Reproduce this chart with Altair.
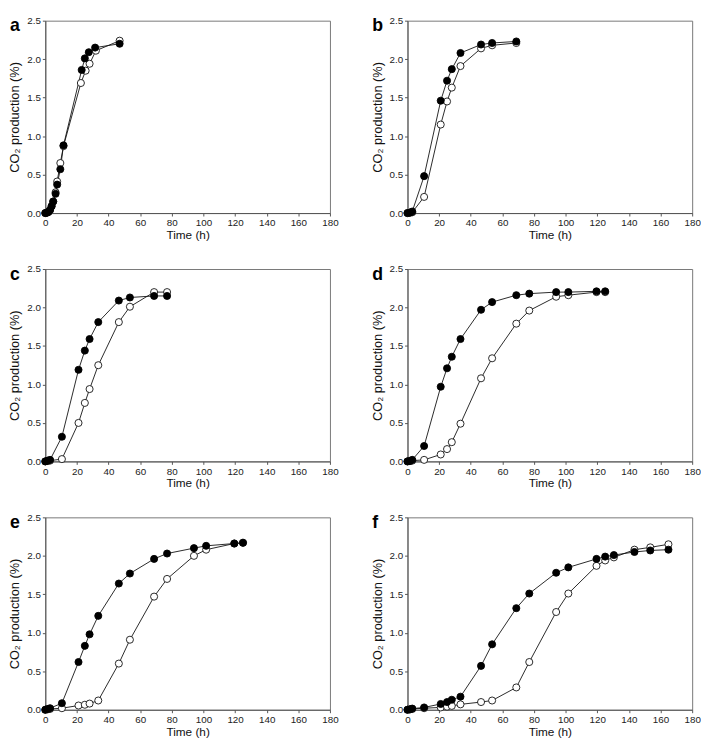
import altair as alt
import pandas as pd

FONT = "Liberation Sans"

# ---- data (time in h, CO2 production in %) ----
# panel a
time_a_filled = [0, 1, 2, 3, 4, 5, 6.5, 7.5, 9.5, 11.5, 23, 25, 27.5, 31.5, 47]
co2_a_filled = [0, 0.005, 0.015, 0.04, 0.09, 0.15, 0.25, 0.37, 0.57, 0.88, 1.86, 2.01, 2.09, 2.15, 2.20]
time_a_open = [0, 1, 2, 3, 4, 5, 6.5, 7.5, 9.5, 11.5, 22.5, 25.5, 28, 32, 47]
co2_a_open = [0, 0.005, 0.015, 0.04, 0.09, 0.15, 0.27, 0.41, 0.65, 0.87, 1.69, 1.85, 1.94, 2.11, 2.24]

# common sampling times for panels b-f
time_long = [0, 1.5, 3, 10.5, 21, 25, 28, 33.5, 46.5, 53.5, 68.8, 77, 94, 101.7,
             119.5, 125, 130.5, 143.5, 153.5, 165]

# panel b
co2_b_filled = [0, 0.005, 0.02, 0.48, 1.46, 1.72, 1.87, 2.08, 2.19, 2.21, 2.23]
co2_b_open = [0, 0.005, 0.01, 0.21, 1.15, 1.45, 1.63, 1.91, 2.14, 2.18, 2.21]
# panel c
co2_c_filled = [0, 0.01, 0.02, 0.32, 1.19, 1.44, 1.59, 1.81, 2.09, 2.13, 2.15, 2.15]
co2_c_open = [0, 0.005, 0.01, 0.03, 0.50, 0.76, 0.94, 1.25, 1.81, 2.01, 2.20, 2.20]
# panel d
co2_d_filled = [0, 0.005, 0.02, 0.20, 0.97, 1.21, 1.36, 1.59, 1.97, 2.07, 2.16, 2.18,
                2.20, 2.20, 2.21, 2.21]
co2_d_open = [0, 0.005, 0.01, 0.02, 0.09, 0.16, 0.25, 0.49, 1.08, 1.34, 1.79, 1.96,
              2.14, 2.16, 2.20, 2.20]
# panel e
co2_e_filled = [0, 0.01, 0.02, 0.085, 0.62, 0.83, 0.98, 1.22, 1.64, 1.77, 1.96, 2.03,
                2.10, 2.13, 2.16, 2.17]
co2_e_open = [0, 0.005, 0.01, 0.02, 0.055, 0.065, 0.08, 0.12, 0.60, 0.91, 1.47, 1.70,
              2.00, 2.08, 2.16, 2.17]
# panel f
co2_f_filled = [0, 0.005, 0.015, 0.03, 0.075, 0.10, 0.13, 0.17, 0.57, 0.85, 1.32, 1.51,
                1.78, 1.85, 1.96, 1.99, 2.01, 2.05, 2.07, 2.08]
co2_f_open = [0, 0.005, 0.01, 0.02, 0.03, 0.04, 0.05, 0.07, 0.10, 0.12, 0.29, 0.62,
              1.27, 1.51, 1.87, 1.94, 1.98, 2.08, 2.11, 2.15]

x_ticks = [0, 20, 40, 60, 80, 100, 120, 140, 160, 180]
y_ticks = [0, 0.5, 1.0, 1.5, 2.0, 2.5]

W, H = 290, 196


def panel(letter, t_f, y_f, t_o, y_o):
    df = pd.DataFrame({
        "t": list(t_o) + list(t_f),
        "v": list(y_o) + list(y_f),
        "series": ["open"] * len(t_o) + ["filled"] * len(t_f),
    })
    x = alt.X("t:Q", scale=alt.Scale(domain=[0, 180], nice=False),
              axis=alt.Axis(values=x_ticks, title="Time (h)"))
    y = alt.Y("v:Q", scale=alt.Scale(domain=[0, 2.5], nice=False),
              axis=alt.Axis(values=y_ticks, format=".1f", title="CO₂ production (%)"))
    base = alt.Chart(df).encode(x=x, y=y)
    lines = base.mark_line(color="#111", strokeWidth=0.9).encode(detail="series:N")
    opn = base.transform_filter(alt.datum.series == "open").mark_point(
        shape="circle", filled=True, fill="white", stroke="#111",
        strokeWidth=0.9, size=52, opacity=1)
    fil = base.transform_filter(alt.datum.series == "filled").mark_point(
        shape="circle", filled=True, fill="black", stroke="black",
        strokeWidth=0.9, size=52, opacity=1)
    lab = alt.Chart(pd.DataFrame({"letter": [letter]})).mark_text(
        align="left", baseline="top", fontSize=18, fontWeight="bold",
        font=FONT, color="black").encode(
        text="letter:N", x=alt.value(-36), y=alt.value(-3))
    return alt.layer(lines, opn, fil, lab).properties(width=W, height=H)


pa = panel("a", time_a_filled, co2_a_filled, time_a_open, co2_a_open)
pb = panel("b", time_long[:11], co2_b_filled, time_long[:11], co2_b_open)
pc = panel("c", time_long[:12], co2_c_filled, time_long[:12], co2_c_open)
pd_ = panel("d", time_long[:16], co2_d_filled, time_long[:16], co2_d_open)
pe = panel("e", time_long[:16], co2_e_filled, time_long[:16], co2_e_open)
pf = panel("f", time_long[:20], co2_f_filled, time_long[:20], co2_f_open)

chart = alt.vconcat(
    alt.hconcat(pa, pb, spacing=32),
    alt.hconcat(pc, pd_, spacing=32),
    alt.hconcat(pe, pf, spacing=32),
    spacing=22,
).properties(padding=0).configure(
    font=FONT, background="white"
).configure_view(
    stroke="#777", strokeWidth=1
).configure_axis(
    grid=False, domainColor="#555", tickColor="#555", tickSize=3,
    labelFont=FONT, labelFontSize=10, labelColor="#222",
    titleFont=FONT, titleFontSize=12, titleFontWeight="normal", titleColor="#111",
).configure_axisX(
    labelPadding=2, titlePadding=2, labelFlush=False
).configure_axisY(
    labelPadding=2, titlePadding=5, titleFontSize=13
)

chart.save("out.html", embed_options={"renderer": "svg", "actions": False})
